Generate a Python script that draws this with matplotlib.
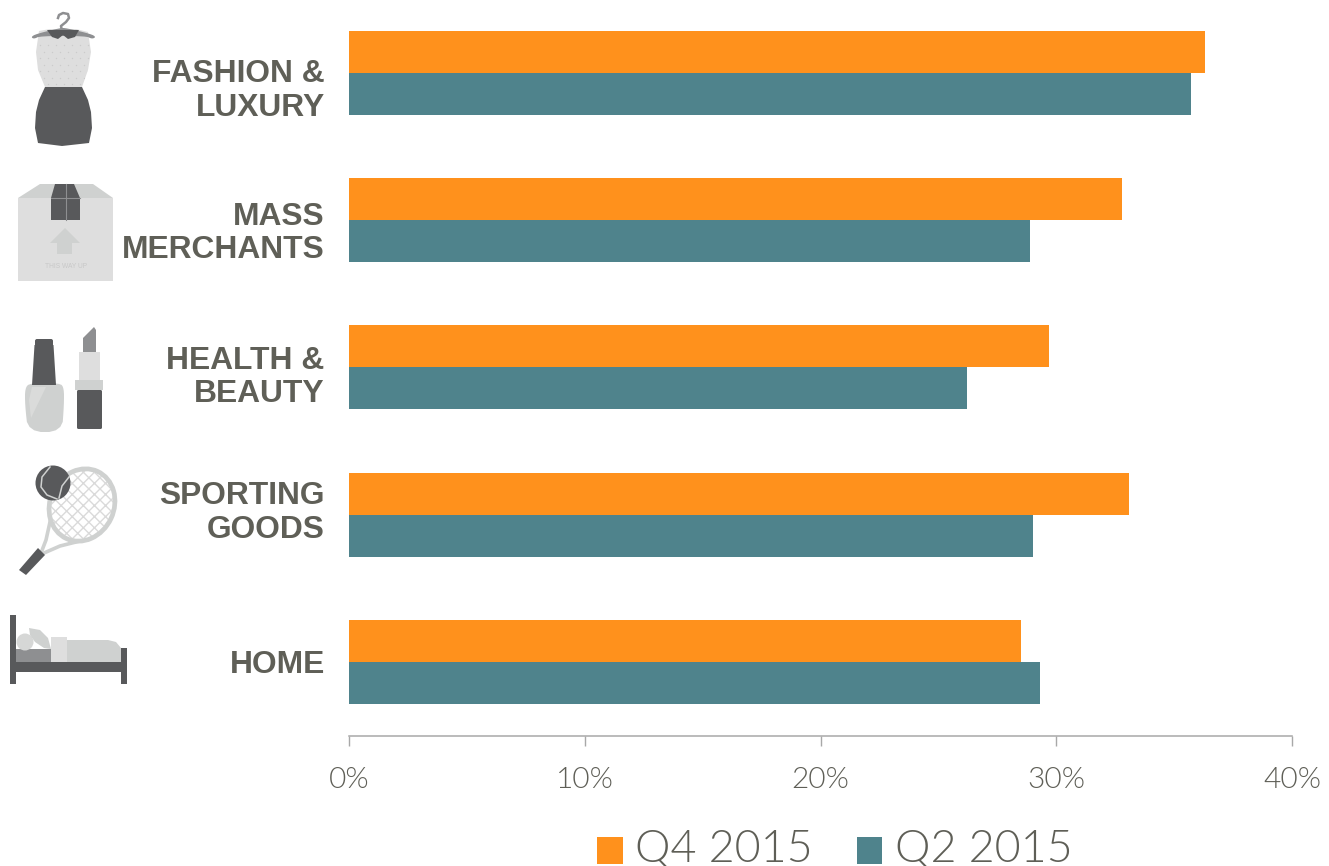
import matplotlib
matplotlib.use("Agg")
import matplotlib.pyplot as plt
from matplotlib.patches import Polygon, Rectangle, Ellipse, Circle, Patch, FancyBboxPatch
from matplotlib.ticker import FuncFormatter
from matplotlib.transforms import ScaledTranslation

categories = ["FASHION &\nLUXURY", "MASS\nMERCHANTS", "HEALTH &\nBEAUTY", "SPORTING\nGOODS", "HOME"]
q4_2015 = [36.3, 32.8, 29.7, 33.1, 28.5]
q2_2015 = [35.7, 28.9, 26.2, 29.0, 29.3]
x_ticks = [0, 10, 20, 30, 40]
series_names = ["Q4 2015", "Q2 2015"]

ORANGE = "#FF911C"
TEAL = "#4F838C"
TEXT = "#5F5F57"
AXIS = "#A8A8A8"
DARK = "#58595B"
MID = "#8E8F91"
LIGHT = "#CFD1D0"
PALE = "#DEDEDE"

W, H = 1329, 866
fig = plt.figure(figsize=(W / 100, H / 100), dpi=100, facecolor="white")

deco = fig.add_axes([0, 0, 1, 1], zorder=0)
deco.set_xlim(0, W)
deco.set_ylim(H, 0)
deco.axis("off")

def smooth(points, n=2):
    for _ in range(n):
        out = []
        for i, (x0, y0) in enumerate(points):
            x1, y1 = points[(i + 1) % len(points)]
            out += [(0.75 * x0 + 0.25 * x1, 0.75 * y0 + 0.25 * y1),
                    (0.25 * x0 + 0.75 * x1, 0.25 * y0 + 0.75 * y1)]
        points = out
    return points

def poly(points, color, z=2, soft=False):
    pts = smooth(points) if soft else points
    p = Polygon(pts, closed=True, facecolor=color, edgecolor="none", zorder=z)
    deco.add_patch(p)
    return p

def rect(x0, y0, x1, y1, color, z=2):
    deco.add_patch(Rectangle((x0, y0), x1 - x0, y1 - y0, facecolor=color, edgecolor="none", zorder=z))

# dress
deco.plot([58, 59, 63, 68, 69, 66, 61, 62], [18, 15, 13, 14, 18, 22, 26, 31], color=MID, lw=1.8, zorder=3)
poly([(31, 37), (36, 34), (60, 28), (66, 28), (91, 34), (96, 37), (92, 39), (86, 36), (40, 36), (34, 39)], MID, 3, True)
body = poly([(39, 31), (50, 29), (76, 29), (88, 32), (91, 52), (88, 70), (82, 87), (45, 87), (38, 70), (36, 52)], PALE, 2, False)
for row in range(7):
    xs = [40 + 8 * k + (row % 2) * 4 for k in range(7)]
    dots, = deco.plot(xs, [45 + 6.5 * row] * 7, ls="none", marker="o", ms=1.0, color="#CBCBCB", mew=0, zorder=2.5)
    dots.set_clip_path(body)
poly([(47, 30), (79, 30), (75, 37), (68, 39), (63, 35), (58, 39), (52, 37)], DARK, 4)
poly([(45, 87), (82, 87), (88, 100), (91, 112), (92, 128), (89, 143), (62, 146), (38, 143), (35, 128), (36, 112), (39, 100)], DARK, 2)

# box
rect(18, 198, 113, 281, PALE)
poly([(18, 198), (40, 184), (93, 184), (113, 198)], LIGHT)
poly([(55, 184), (74, 184), (80, 198), (80, 220), (51, 220), (51, 198)], DARK, 3)
deco.plot([65.5, 65.5], [184, 220], color=MID, lw=0.8, zorder=4)
deco.plot([51, 80], [198, 198], color=MID, lw=0.8, zorder=4)
poly([(50, 243), (65, 228), (80, 243), (72, 243), (72, 254), (57, 254), (57, 243)], LIGHT, 3)
deco.text(66, 267, "THIS WAY UP", fontsize=4.8, color="#C8C8C8", ha="center", va="center",
          family="Liberation Sans", zorder=3)

# nail polish
deco.add_patch(FancyBboxPatch((35, 339), 18, 44, boxstyle="round,pad=0,rounding_size=2", fc=DARK, ec="none", zorder=3))
poly([(34.5, 345), (53.5, 345), (56, 385), (32, 385)], DARK, 3)
poly([(30, 383), (60, 383), (64, 388), (64, 405), (62, 432), (28, 432), (25, 405), (25, 388)], LIGHT, 2, True)
poly([(32, 387), (46, 387), (31, 418), (29, 400)], "#DADBDA", 3)

# lipstick
poly([(83, 338), (94, 327), (96, 330), (96, 352), (83, 352)], MID)
rect(79, 352, 100, 381, PALE)
rect(75, 380, 103, 390, LIGHT, 3)
deco.add_patch(FancyBboxPatch((77, 390), 25, 39, boxstyle="round,pad=0,rounding_size=1.5", fc=DARK, ec="none", zorder=3))

# racket
deco.add_patch(Ellipse((82, 505), 60, 70, angle=25, facecolor="white", edgecolor="#DADADA", lw=0, hatch="xxx", zorder=2))
deco.add_patch(Ellipse((82, 505), 64, 74, angle=25, facecolor="none", edgecolor=LIGHT, lw=3.4, zorder=2.5))
deco.plot([50, 46, 41], [522, 540, 553], color=LIGHT, lw=2.6, zorder=2)
deco.plot([44, 60, 80], [553, 546, 541], color=LIGHT, lw=2.6, zorder=2)
poly([(38, 548), (45, 555), (26, 575), (19, 570)], DARK, 3)
deco.add_patch(Circle((53, 483), 17.5, facecolor=DARK, edgecolor="none", zorder=4))
deco.plot([50, 42, 41, 47, 57], [467, 477, 487, 495, 499], color=LIGHT, lw=1.1, zorder=5)
deco.plot([69, 62, 59], [477, 486, 498], color=LIGHT, lw=1.1, zorder=5)

# bed
rect(10, 615, 16, 684, DARK, 3)
rect(121, 648, 127, 684, DARK, 3)
rect(16, 662, 121, 672, DARK, 3)
rect(16, 649, 51, 662, MID)
poly([(67, 640), (108, 640), (116, 642), (121, 648), (121, 662), (51, 662), (51, 640)], LIGHT)
rect(51, 637, 67, 662, PALE, 3)
deco.add_patch(Circle((25, 642), 8.5, facecolor="#D6D7D6", edgecolor="none", zorder=3))
poly([(29, 628), (40, 630), (48, 638), (51, 649), (44, 648), (35, 642), (30, 635)], LIGHT, 3)

# chart
ax = fig.add_axes([349 / W, (H - 736) / H, (1292 - 349) / W, 736 / H], zorder=1)
ax.patch.set_alpha(0)
positions = list(range(len(categories)))
pitch = 147.25
bar_h = 42 / pitch
ax.barh([p - bar_h / 2 for p in positions], q4_2015, height=bar_h, color=ORANGE, label=series_names[0])
ax.barh([p + bar_h / 2 for p in positions], q2_2015, height=bar_h, color=TEAL, label=series_names[1])
ax.set_xlim(0, 40)
ax.set_ylim((736 - 73) / pitch, -73 / pitch)

ax.set_yticks(positions, labels=categories)
ax.set_xticks(x_ticks)
ax.xaxis.set_major_formatter(FuncFormatter(lambda v, _: f"{v:.0f}%"))
for s in ("top", "right", "left"):
    ax.spines[s].set_visible(False)
ax.spines["bottom"].set_color(AXIS)
ax.spines["bottom"].set_linewidth(1.1)
ax.tick_params(axis="y", length=0, pad=17.5)
ax.tick_params(axis="x", length=7.2, width=1.0, color=AXIS, pad=15)
label_shift_px = [-13, -8, -5, 7, 0]
for lab, dy in zip(ax.get_yticklabels(), label_shift_px):
    lab.set(family="Liberation Sans", weight="bold", fontsize=22.9, color=TEXT, ha="right",
            linespacing=1.15, multialignment="right")
    lab.set_transform(lab.get_transform() + ScaledTranslation(0, dy / 100, fig.dpi_scale_trans))
for lab in ax.get_xticklabels():
    lab.set(family="Lato", weight=300, fontsize=21.5, color=TEXT)

handles = [Patch(facecolor=ORANGE, edgecolor="none"), Patch(facecolor=TEAL, edgecolor="none")]
leg = fig.legend(handles, series_names, loc="lower left", bbox_to_anchor=(597 / W, -4 / H),
                 bbox_transform=fig.transFigure, ncols=2, frameon=False,
                 prop={"family": "Lato", "weight": 300, "size": 32.3},
                 labelcolor=TEXT, handlelength=0.57, handleheight=0.57, handletextpad=0.28,
                 columnspacing=0.98, borderpad=0, borderaxespad=0)
for p in leg.get_patches():
    p.set_y(p.get_y() - 3)

fig.savefig("out.png", dpi=100, facecolor="white")
